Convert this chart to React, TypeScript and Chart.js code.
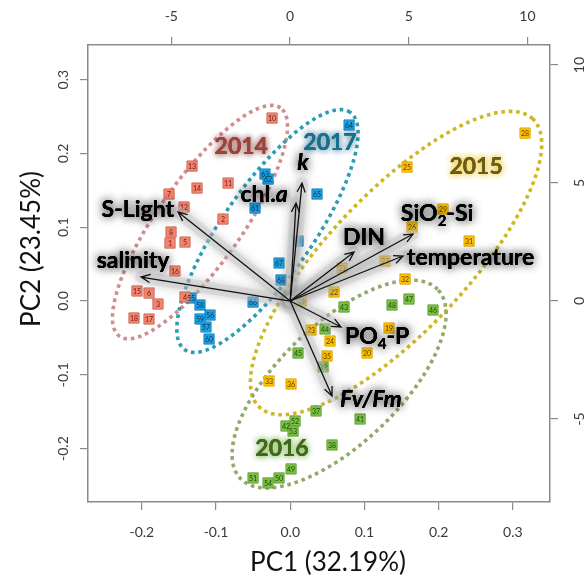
import React, { useEffect, useRef } from "react";
import { Chart, registerables } from "chart.js";

Chart.register(...registerables);

// ---------- axis ticks ----------
const pcTicks = [-0.2, -0.1, 0.0, 0.1, 0.2, 0.3];
const loadTicks = [-5, 0, 5, 10];
const pcAxisLabelX = "PC1 (32.19%)";
const pcAxisLabelY = "PC2 (23.45%)";

// ---------- sample scores ----------
const ids2014 = [1, 2, 3, 4, 5, 6, 7, 8, 10, 11, 12, 13, 14, 15, 16, 17, 18];
const pc1_2014 = [-0.162, -0.0906, -0.1782, -0.1418, -0.1418, -0.1903, -0.1633, -0.1606, -0.0245, -0.0838, -0.1431, -0.1323, -0.1256, -0.2065, -0.1553, -0.1903, -0.2105];
const pc2_2014 = [0.0786, 0.1111, -0.0041, 0.0054, 0.0799, 0.0108, 0.145, 0.0935, 0.248, 0.1599, 0.1274, 0.1829, 0.1531, 0.0136, 0.0407, -0.0244, -0.023];

const ids2015 = [19, 20, 21, 22, 23, 24, 25, 26, 27, 28, 29, 31, 32, 33, 34, 35, 36];
const pc1_2015 = [0.1331, 0.1035, 0.0698, 0.059, 0.028, 0.0536, 0.1574, 0.1641, 0.1277, 0.3164, 0.2059, 0.241, 0.1547, -0.0286, 0.0146, 0.0496, 0.0011];
const pc2_2015 = [-0.0366, -0.0705, 0.0447, 0.0122, -0.0393, -0.0542, 0.1816, 0.1003, 0.0542, 0.2276, 0.1247, 0.0813, 0.0298, -0.1084, 0.0, -0.0745, -0.1125];

const ids2016 = [37, 38, 39, 41, 42, 43, 44, 45, 46, 47, 48, 49, 50, 51, 52, 53, 54];
const pc1_2016 = [0.0348, 0.0563, 0.0442, 0.0941, -0.0057, 0.0725, 0.0469, 0.0105, 0.1924, 0.16, 0.1371, 0.0011, -0.0151, -0.0501, 0.0065, 0.0038, -0.0299];
const pc2_2016 = [-0.149, -0.1951, -0.0894, -0.1599, -0.1694, -0.0081, -0.0379, -0.0705, -0.0122, 0.0027, -0.0054, -0.2276, -0.2398, -0.2398, -0.1626, -0.1762, -0.2466];

const ids2017 = [55, 56, 57, 58, 59, 60, 61, 63, 62, 64, 65, 66, 67, 68, 69];
const pc1_2017 = [-0.1337, -0.1081, -0.1135, -0.1216, -0.1216, -0.1094, -0.0474, -0.034, -0.0299, 0.0793, 0.0361, -0.0501, -0.0151, -0.0124, 0.0105];
const pc2_2017 = [0.0041, -0.019, -0.0352, -0.0054, -0.0244, -0.0515, 0.126, 0.1721, 0.1653, 0.2385, 0.145, -0.0014, 0.0515, 0.0285, 0.0813];

// ---------- variable loadings (PC scale) ----------
const loadingNames = ["S-Light", "salinity", "chl.a", "k", "DIN", "SiO2-Si", "temperature", "PO4-P", "Fv/Fm"];
const loadingPC1 = [-0.1512, -0.201, 0.0078, 0.0159, 0.086, 0.1655, 0.152, 0.0684, 0.0563];
const loadingPC2 = [0.1206, 0.0325, 0.1328, 0.1599, 0.0664, 0.0908, 0.061, -0.0352, -0.1287];

// ---------- year groups / confidence ellipses ----------
const years = ["2014", "2015", "2016", "2017"];
const ellipseCenterPC1 = [-0.1216, 0.1426, 0.0658, -0.0307];
const ellipseCenterPC2 = [0.107, 0.0515, -0.1125, 0.0949];
const ellipseSemiMajor = [0.189, 0.2685, 0.1846, 0.1957];
const ellipseSemiMinor = [0.0567, 0.0933, 0.0809, 0.0608];
const ellipseAngleDeg = [55, 46.7, 44, 55.3];
const yearLabelPC1 = [-0.066, 0.2504, -0.0111, 0.0536];
const yearLabelPC2 = [0.2087, 0.1816, -0.2005, 0.2154];

// ---------- styles ----------
const FONT = "Lato, 'Open Sans', 'DejaVu Sans', sans-serif";
const yearStyle: Record<string, { fill: string; border: string; text: string; ellipse: string; label: string; glow: string }> = {
  "2014": { fill: "#F4846F", border: "#C8614F", text: "#6A1E14", ellipse: "#D38C8E", label: "#A0403A", glow: "rgba(100,30,25,0.6)" },
  "2015": { fill: "#FFC000", border: "#D9A200", text: "#5A3E00", ellipse: "#CDB824", label: "#6E5A18", glow: "rgba(235,200,40,0.95)" },
  "2016": { fill: "#7CC043", border: "#5C9A30", text: "#1C4A0C", ellipse: "#92A96A", label: "#3E6A1C", glow: "rgba(110,170,60,0.8)" },
  "2017": { fill: "#1AA1E4", border: "#1580B8", text: "#0A3456", ellipse: "#2B9DB2", label: "#17708F", glow: "rgba(20,90,120,0.6)" },
};

type Seg = { t: string; sub?: boolean; italic?: boolean };
const loadingLabel: Record<string, { segs: Seg[]; dx: number; dy: number; align: "left" | "right" | "center" }> = {
  "S-Light": { segs: [{ t: "S-Light" }], dx: -4, dy: -2, align: "right" },
  salinity: { segs: [{ t: "salinity" }], dx: -8, dy: -16, align: "center" },
  "chl.a": { segs: [{ t: "chl." }, { t: "a", italic: true }], dx: -32, dy: -8, align: "center" },
  k: { segs: [{ t: "k", italic: true }], dx: 1, dy: -20, align: "center" },
  DIN: { segs: [{ t: "DIN" }], dx: 10, dy: -14, align: "center" },
  "SiO2-Si": { segs: [{ t: "SiO" }, { t: "2", sub: true }, { t: "-Si" }], dx: 24, dy: -20, align: "center" },
  temperature: { segs: [{ t: "temperature" }], dx: 4, dy: 2, align: "left" },
  "PO4-P": { segs: [{ t: "PO" }, { t: "4", sub: true }, { t: "-P" }], dx: 4, dy: 10, align: "left" },
  "Fv/Fm": { segs: [{ t: "Fv/Fm", italic: true }], dx: 8, dy: 4, align: "left" },
};

const LABEL_SIZE = 23;

function segFont(s: Seg, size: number) {
  return `${s.italic ? "italic " : ""}bold ${s.sub ? Math.round(size * 0.65) : size}px ${FONT}`;
}

function drawRich(ctx: CanvasRenderingContext2D, segs: Seg[], x: number, y: number, size: number, align: string) {
  let w = 0;
  const widths = segs.map((s) => {
    ctx.font = segFont(s, size);
    const m = ctx.measureText(s.t).width;
    w += m;
    return m;
  });
  let cx = align === "left" ? x : align === "right" ? x - w : x - w / 2;
  ctx.textAlign = "left";
  ctx.textBaseline = "middle";
  segs.forEach((s, i) => {
    ctx.font = segFont(s, size);
    ctx.fillText(s.t, cx, s.sub ? y + size * 0.32 : y);
    cx += widths[i];
  });
}

function withGlow(ctx: CanvasRenderingContext2D, color: string, blur: number, passes: number, fn: () => void) {
  ctx.save();
  ctx.shadowColor = color;
  ctx.shadowBlur = blur;
  for (let i = 0; i < passes; i++) fn();
  ctx.restore();
  fn();
}

const overlayPlugin = {
  id: "pcaOverlay",
  beforeDatasetsDraw(chart: any) {
    const { ctx, scales } = chart;
    const xs = scales.x;
    const ys = scales.y;
    ctx.save();
    ctx.beginPath();
    ctx.rect(chart.chartArea.left, chart.chartArea.top, chart.chartArea.width, chart.chartArea.height);
    ctx.clip();
    years.forEach((yr, gi) => {
      const th = (ellipseAngleDeg[gi] * Math.PI) / 180;
      const a = ellipseSemiMajor[gi];
      const b = ellipseSemiMinor[gi];
      ctx.beginPath();
      const N = 200;
      for (let i = 0; i <= N; i++) {
        const t = (i / N) * Math.PI * 2;
        const dx = a * Math.cos(t) * Math.cos(th) - b * Math.sin(t) * Math.sin(th);
        const dy = a * Math.cos(t) * Math.sin(th) + b * Math.sin(t) * Math.cos(th);
        const px = xs.getPixelForValue(ellipseCenterPC1[gi] + dx);
        const py = ys.getPixelForValue(ellipseCenterPC2[gi] + dy);
        if (i === 0) ctx.moveTo(px, py);
        else ctx.lineTo(px, py);
      }
      ctx.strokeStyle = yearStyle[yr].ellipse;
      ctx.lineWidth = 3.6;
      ctx.setLineDash([3.6, 3.8]);
      ctx.lineCap = "butt";
      ctx.stroke();
    });
    ctx.restore();
  },
  afterDatasetsDraw(chart: any) {
    const { ctx, scales } = chart;
    const xs = scales.x;
    const ys = scales.y;
    // point labels
    chart.data.datasets.forEach((ds: any, di: number) => {
      const meta = chart.getDatasetMeta(di);
      const yr = years[di];
      meta.data.forEach((el: any, i: number) => {
        ctx.save();
        ctx.font = `7px ${FONT}`;
        ctx.fillStyle = yearStyle[yr].text;
        ctx.textAlign = "center";
        ctx.textBaseline = "middle";
        ctx.fillText(String(ds.ids[i]), el.x, el.y + 0.5);
        ctx.restore();
      });
    });

    const ox = xs.getPixelForValue(0);
    const oy = ys.getPixelForValue(0);
    // arrow glow (soft grey halo)
    loadingNames.forEach((n, i) => {
      const ex = xs.getPixelForValue(loadingPC1[i]);
      const ey = ys.getPixelForValue(loadingPC2[i]);
      ctx.save();
      ctx.strokeStyle = "rgba(200,200,200,0.4)";
      ctx.lineWidth = 12;
      ctx.lineCap = "round";
      ctx.shadowColor = "rgba(120,120,120,0.85)";
      ctx.shadowBlur = 10;
      ctx.beginPath();
      ctx.moveTo(ox, oy);
      ctx.lineTo(ex, ey);
      ctx.stroke();
      ctx.restore();
    });
    // arrows
    loadingNames.forEach((n, i) => {
      const ex = xs.getPixelForValue(loadingPC1[i]);
      const ey = ys.getPixelForValue(loadingPC2[i]);
      const ang = Math.atan2(ey - oy, ex - ox);
      const hl = 10;
      const ha = (24 * Math.PI) / 180;
      ctx.save();
      ctx.strokeStyle = "#111";
      ctx.lineWidth = 1.3;
      ctx.beginPath();
      ctx.moveTo(ox, oy);
      ctx.lineTo(ex, ey);
      ctx.moveTo(ex - hl * Math.cos(ang - ha), ey - hl * Math.sin(ang - ha));
      ctx.lineTo(ex, ey);
      ctx.lineTo(ex - hl * Math.cos(ang + ha), ey - hl * Math.sin(ang + ha));
      ctx.stroke();
      ctx.restore();
    });
    // variable labels
    loadingNames.forEach((n, i) => {
      const st = loadingLabel[n];
      const ex = xs.getPixelForValue(loadingPC1[i]) + st.dx;
      const ey = ys.getPixelForValue(loadingPC2[i]) + st.dy;
      ctx.save();
      ctx.fillStyle = "#000";
      withGlow(ctx, "rgba(50,50,50,0.7)", 10, 2, () => drawRich(ctx, st.segs, ex, ey, LABEL_SIZE, st.align));
      ctx.restore();
    });
    // year labels
    years.forEach((yr, gi) => {
      const px = xs.getPixelForValue(yearLabelPC1[gi]);
      const py = ys.getPixelForValue(yearLabelPC2[gi]);
      ctx.save();
      ctx.fillStyle = yearStyle[yr].label;
      withGlow(ctx, yearStyle[yr].glow, 6, 2, () => drawRich(ctx, [{ t: yr }], px, py, LABEL_SIZE, "center"));
      ctx.restore();
    });
  },
  afterDraw(chart: any) {
    const { ctx, scales } = chart;
    ctx.save();
    ctx.fillStyle = "#3a3a3a";
    ctx.font = `14px ${FONT}`;
    ctx.textAlign = "center";
    ctx.textBaseline = "middle";
    scales.y.ticks.forEach((t: any) => {
      const py = scales.y.getPixelForValue(t.value);
      ctx.save();
      ctx.translate(63, py);
      ctx.rotate(-Math.PI / 2);
      ctx.fillText(Number(t.value).toFixed(1), 0, 0);
      ctx.restore();
    });
    scales.y2.ticks.forEach((t: any) => {
      const py = scales.y2.getPixelForValue(t.value);
      ctx.save();
      ctx.translate(579, py);
      ctx.rotate(-Math.PI / 2);
      ctx.fillText(String(t.value), 0, 0);
      ctx.restore();
    });
    ctx.fillStyle = "#111";
    ctx.font = `26px ${FONT}`;
    ctx.fillText(pcAxisLabelX, 328, 563);
    ctx.save();
    ctx.translate(32, 249);
    ctx.rotate(-Math.PI / 2);
    ctx.fillText(pcAxisLabelY, 0, 0);
    ctx.restore();
    ctx.restore();
  },
};

function makeDataset(yr: string, ids: number[], pc1: number[], pc2: number[]) {
  const st = yearStyle[yr];
  return {
    label: yr,
    ids,
    data: pc1.map((v, i) => ({ x: v, y: pc2[i] })),
    pointStyle: "rect",
    pointRadius: 7.3,
    pointHoverRadius: 7.3,
    backgroundColor: st.fill,
    borderColor: st.border,
    borderWidth: 0.8,
    showLine: false,
  };
}

const gridOpts = { drawOnChartArea: false, drawTicks: true, tickLength: 8, color: "#8a8a8a", lineWidth: 1.2 };
const borderOpts = { display: true, color: "#8a8a8a", width: 1.5 };

export default function App() {
  const ref = useRef<HTMLCanvasElement | null>(null);
  useEffect(() => {
    if (!ref.current) return;
    const chart = new Chart(ref.current, {
      type: "scatter",
      data: {
        datasets: [
          makeDataset("2014", ids2014, pc1_2014, pc2_2014),
          makeDataset("2015", ids2015, pc1_2015, pc2_2015),
          makeDataset("2016", ids2016, pc1_2016, pc2_2016),
          makeDataset("2017", ids2017, pc1_2017, pc2_2017),
        ] as any,
      },
      options: {
        responsive: false,
        animation: false,
        events: [],
        layout: { padding: 0 },
        plugins: { legend: { display: false }, tooltip: { enabled: false } },
        scales: {
          x: {
            type: "linear",
            axis: "x",
            position: "bottom",
            min: -0.2725,
            max: 0.35,
            afterBuildTicks: (s: any) => { s.ticks = pcTicks.map((v) => ({ value: v })); },
            afterFit: (s: any) => { s.height = 74; },
            grid: gridOpts,
            border: borderOpts,
            ticks: { padding: 14, color: "#3a3a3a", font: { family: FONT, size: 14 }, maxRotation: 0, autoSkip: false, callback: (v: any) => Number(v).toFixed(1) },
          },
          x2: {
            type: "linear",
            axis: "x",
            position: "top",
            min: -8.51,
            max: 10.95,
            afterBuildTicks: (s: any) => { s.ticks = loadTicks.map((v) => ({ value: v })); },
            afterFit: (s: any) => { s.height = 45; },
            grid: gridOpts,
            border: borderOpts,
            ticks: { padding: 12, color: "#3a3a3a", font: { family: FONT, size: 14 }, maxRotation: 0, autoSkip: false, callback: (v: any) => String(v) },
          },
          y: {
            type: "linear",
            axis: "y",
            position: "left",
            min: -0.2724,
            max: 0.347,
            afterBuildTicks: (s: any) => { s.ticks = pcTicks.map((v) => ({ value: v })); },
            afterFit: (s: any) => { s.width = 88; },
            grid: gridOpts,
            border: borderOpts,
            ticks: { display: false },
          },
          y2: {
            type: "linear",
            axis: "y",
            position: "right",
            min: -8.52,
            max: 10.85,
            afterBuildTicks: (s: any) => { s.ticks = loadTicks.map((v) => ({ value: v })); },
            afterFit: (s: any) => { s.width = 38; },
            grid: gridOpts,
            border: borderOpts,
            ticks: { display: false },
          },
        },
      } as any,
      plugins: [overlayPlugin],
    });
    return () => chart.destroy();
  }, []);
  return (
    <div style={{ position: "fixed", left: 0, top: 0, width: 588, height: 576, background: "#fff" }}>
      <canvas ref={ref} width={588} height={576} style={{ display: "block", width: 588, height: 576 }} />
    </div>
  );
}
